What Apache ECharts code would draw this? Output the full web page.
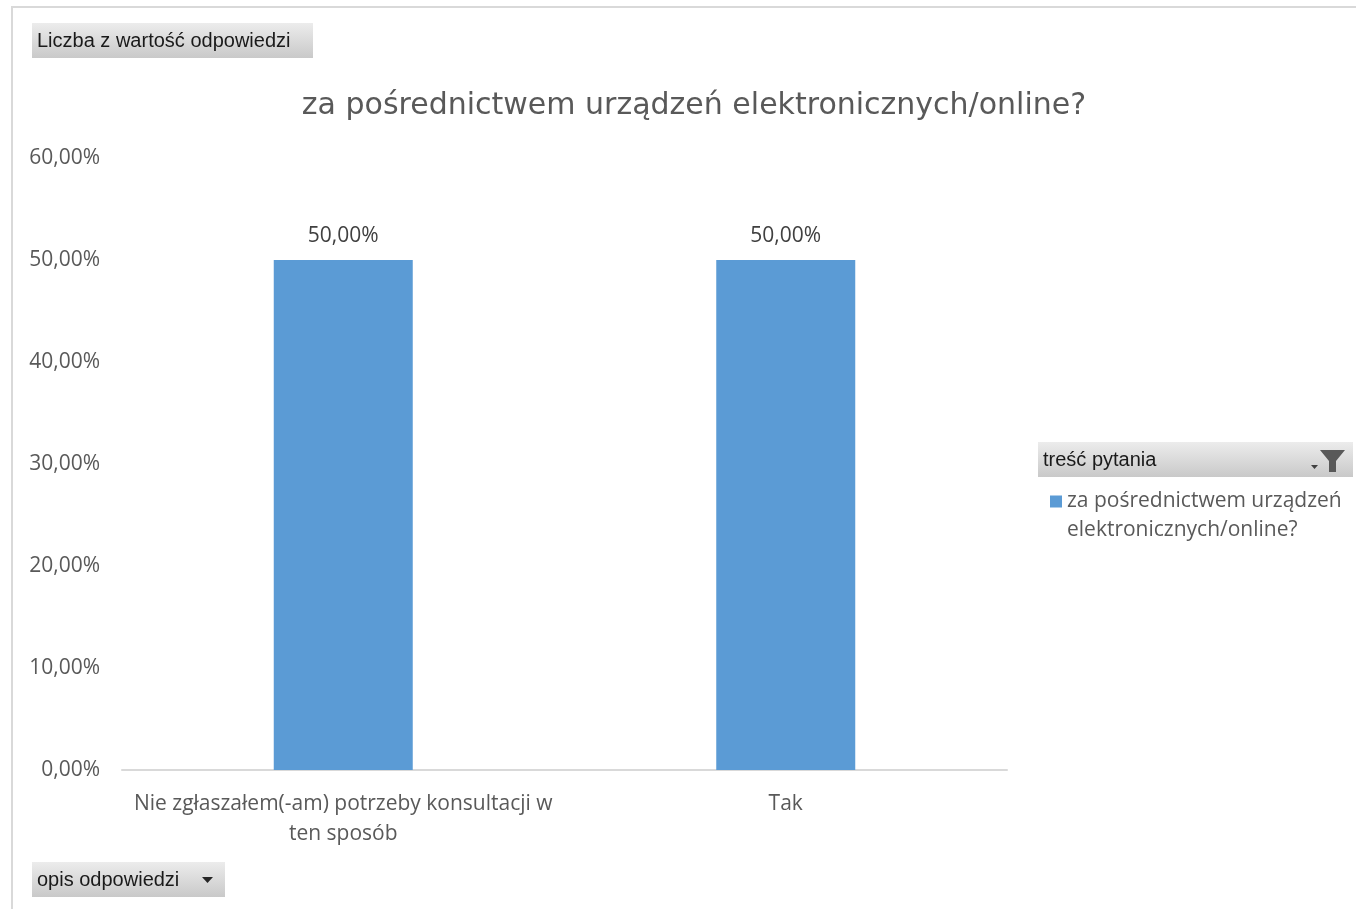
<!DOCTYPE html>
<html><head><meta charset="utf-8">
<script src="https://cdn.jsdelivr.net/npm/echarts@6/dist/echarts.min.js"></script>
<style>html,body{margin:0;padding:0;background:#fff}#c{width:1356px;height:909px}</style>
</head><body><div id="c"></div>
<script>
const categories = ['Nie zgłaszałem(-am) potrzeby konsultacji w\nten sposób', 'Tak'];
const values = [50, 50];
const seriesName = 'za pośrednictwem urządzeń elektronicznych/online?';
const titleText = 'za pośrednictwem urządzeń elektronicznych/online?';
const legendLines = ['za pośrednictwem urządzeń', 'elektronicznych/online?'];
const yTicks = [0, 10, 20, 30, 40, 50, 60];

const F = '"Open Sans", "Noto Sans", sans-serif';
const TF = '"DejaVu Sans", sans-serif';
const BF = '"Liberation Sans Narrow", "Liberation Sans", sans-serif';
const fmt = v => v.toFixed(2).replace('.', ',') + '%';
const btnGrad = {type:'linear',x:0,y:0,x2:0,y2:1,colorStops:[{offset:0,color:'#ececec'},{offset:1,color:'#c9c9c9'}]};

const chart = echarts.init(document.getElementById('c'));
chart.setOption({
  animation:false,
  backgroundColor:'#fff',
  title:{text:titleText,left:689,top:86,textAlign:'center',textStyle:{fontFamily:TF,fontSize:30,fontWeight:'normal',color:'#595959'}},
  grid:{left:122,right:349,top:158,bottom:139,containLabel:false},
  legend:{show:true,left:1045,top:453,orient:'vertical',itemWidth:12,itemHeight:12,itemGap:6,icon:'rect',
    formatter:()=> '{e| }\n{a|' + legendLines[0] + '}\n{a|' + legendLines[1] + '}',
    textStyle:{fontFamily:F,fontSize:21,color:'#595959',lineHeight:29,
      rich:{a:{fontFamily:F,fontSize:21,color:'#595959',lineHeight:29},e:{fontSize:21,lineHeight:29}}}},
  xAxis:{type:'category',data:categories,
    axisLine:{lineStyle:{color:'#d9d9d9',width:2}},axisTick:{show:false},
    axisLabel:{fontFamily:F,fontSize:21,color:'#595959',lineHeight:30,margin:19,interval:0}},
  yAxis:{type:'value',min:yTicks[0],max:yTicks[yTicks.length-1],interval:10,
    axisLine:{show:false},axisTick:{show:false},splitLine:{show:false},
    axisLabel:{fontFamily:F,fontSize:21,color:'#595959',margin:22,padding:[4,0,0,0],formatter:fmt}},
  series:[{name:seriesName,type:'bar',data:values,barWidth:139,
    itemStyle:{color:'#5b9bd5'},
    label:{show:true,position:'top',distance:13,fontFamily:F,fontSize:21,color:'#404040',formatter:p=>fmt(p.value)}}],
  graphic:[
    {type:'polyline',shape:{points:[[12,909],[12,7],[1356,7]]},style:{stroke:'#d9d9d9',lineWidth:2,fill:null},silent:true},
    {type:'rect',shape:{x:32,y:23,width:281,height:35},style:{fill:btnGrad}},
    {type:'text',x:37,y:41,style:{text:'Liczba z wartość odpowiedzi',fontFamily:BF,fontSize:20,fill:'#1a1a1a',verticalAlign:'middle'}},
    {type:'rect',shape:{x:1038,y:442,width:315,height:35},style:{fill:btnGrad}},
    {type:'text',x:1043,y:460,style:{text:'treść pytania',fontFamily:BF,fontSize:20,fill:'#1a1a1a',verticalAlign:'middle'}},
    {type:'polygon',shape:{points:[[1320,450],[1345,450],[1336,461],[1336,472],[1329,472],[1329,461]]},style:{fill:'#595959'}},
    {type:'polygon',shape:{points:[[1311,465],[1318,465],[1314.5,469]]},style:{fill:'#404040'}},
    {type:'rect',shape:{x:32,y:862,width:193,height:35},style:{fill:btnGrad}},
    {type:'text',x:37,y:880,style:{text:'opis odpowiedzi',fontFamily:BF,fontSize:20,fill:'#1a1a1a',verticalAlign:'middle'}},
    {type:'polygon',shape:{points:[[202,877],[213,877],[207.5,883]]},style:{fill:'#262626'}}
  ]
});
</script></body></html>
